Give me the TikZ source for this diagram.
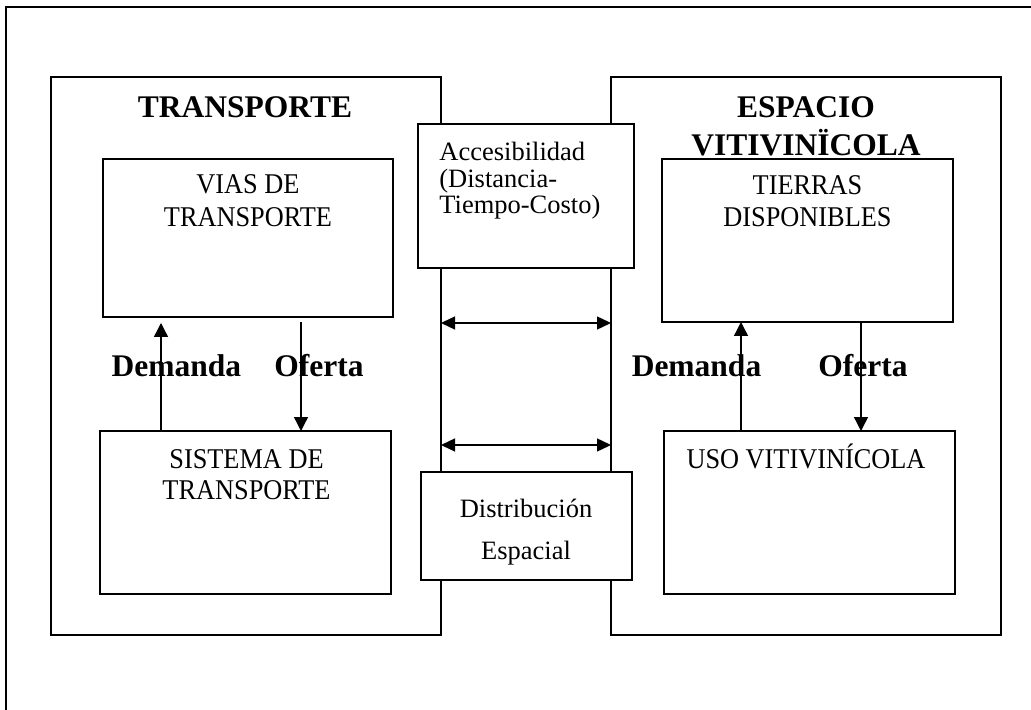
\documentclass[tikz,border=0pt]{standalone}
\usepackage{fontspec}
\setmainfont{Liberation Serif}
\newfontfamily\boxserif[FakeStretch=0.92]{Liberation Serif}
\usetikzlibrary{arrows.meta,fit}
\tikzset{
  frameline/.style={line width=1pt},
  bigbox/.style={draw, line width=0.7pt, inner sep=0pt, outer sep=0pt},
  midbox/.style={draw, line width=0.7pt, fill=white, inner sep=0pt, outer sep=0pt},
  arr/.style={line width=0.7pt, -{Triangle[length=7pt,width=7pt]}},
  arrtwo/.style={line width=0.7pt, {Triangle[length=7pt,width=6.5pt]}-{Triangle[length=7pt,width=6.5pt]}},
  boldlabel/.style={inner sep=0pt, anchor=base, font=\fontsize{15.75}{18}\selectfont\bfseries},
  boxtext/.style={inner sep=0pt, anchor=base, font=\boxserif\fontsize{14.3}{16.5}\selectfont},
}
\begin{document}
\begin{tikzpicture}[x=0.5pt,y=-0.5pt]
\useasboundingbox (0,0) rectangle (1031,710);
% outer frame (only top and left edges visible)
\coordinate (fbot) at (6,710);
\coordinate (ftl) at (6,7);
\coordinate (ftr) at (1031,7);
\draw[frameline] (fbot) -- (ftl) -- (ftr);

% big boxes
\node[bigbox, fit={(51,77) (441,635)}] (trans) {};
\node[bigbox, fit={(611,77) (1001,635)}] (esp) {};

% inner boxes
\node[bigbox, fit={(103,159) (393,317)}] (vias) {};
\node[bigbox, fit={(100,431) (391,594)}] (sist) {};
\node[bigbox, fit={(662,159) (953,322)}] (tierras) {};
\node[bigbox, fit={(664,431) (955,594)}] (uso) {};

% middle boxes
\node[midbox, fit={(418,124) (634,268)}] (acc) {};
\node[midbox, fit={(421,472) (632,580)}] (dist) {};

% titles
\node[boldlabel] (ttrans) at (245,118) {TRANSPORTE};
\node[boldlabel, font=\fontsize{15.75}{18}\selectfont\bfseries] (tesp) at (806,118)
  {\begin{tabular}[t]{@{}c@{}}ESPACIO\\VITIVINÏCOLA\end{tabular}};

% box texts
\node[boxtext] (tvias) at (248,194)
  {\begin{tabular}[t]{@{}c@{}}VIAS DE\\TRANSPORTE\end{tabular}};
\node[boxtext, font=\boxserif\fontsize{14.3}{15.5}\selectfont] (tsist) at (246.5,468)
  {\begin{tabular}[t]{@{}c@{}}SISTEMA DE\\TRANSPORTE\end{tabular}};
\node[boxtext, font=\boxserif\fontsize{14.3}{16}\selectfont] (ttierras) at (807.5,195)
  {\begin{tabular}[t]{@{}c@{}}TIERRAS\\DISPONIBLES\end{tabular}};
\node[boxtext] (tuso) at (806,468) {USO VITIVINÍCOLA};

\node[inner sep=0pt, anchor=base west, font=\fontsize{13.25}{12.75}\selectfont] (tacc) at (439,161)
  {\begin{tabular}[t]{@{}l@{}}Accesibilidad\\(Distancia-\\Tiempo-Costo)\end{tabular}};
\node[inner sep=0pt, anchor=base, font=\fontsize{13.25}{21}\selectfont] (tdist) at (526,517)
  {\begin{tabular}[t]{@{}c@{}}Distribución\\Espacial\end{tabular}};

% Demanda / Oferta labels
\node[boldlabel] (dleft) at (176.5,377) {Demanda};
\node[boldlabel] (oleft) at (319,377) {Oferta};
\node[boldlabel] (dright) at (696.5,377) {Demanda};
\node[boldlabel] (oright) at (863,377) {Oferta};

% vertical arrows
\coordinate (dl) at (161,323);
\coordinate (ol) at (301,322);
\coordinate (dr) at (741,0);
\coordinate (orr) at (861,0);
\draw[arr] (sist.north -| dl) -- (dl);
\draw[arr] (ol) -- (sist.north -| ol);
\draw[arr] (uso.north -| dr) -- (tierras.south -| dr);
\draw[arr] (tierras.south -| orr) -- (uso.north -| orr);

% horizontal double arrows
\coordinate (h1) at (526,323);
\coordinate (h2) at (526,445);
\draw[arrtwo] (trans.east |- h1) -- (esp.west |- h1);
\draw[arrtwo] (trans.east |- h2) -- (esp.west |- h2);
\end{tikzpicture}
\end{document}
